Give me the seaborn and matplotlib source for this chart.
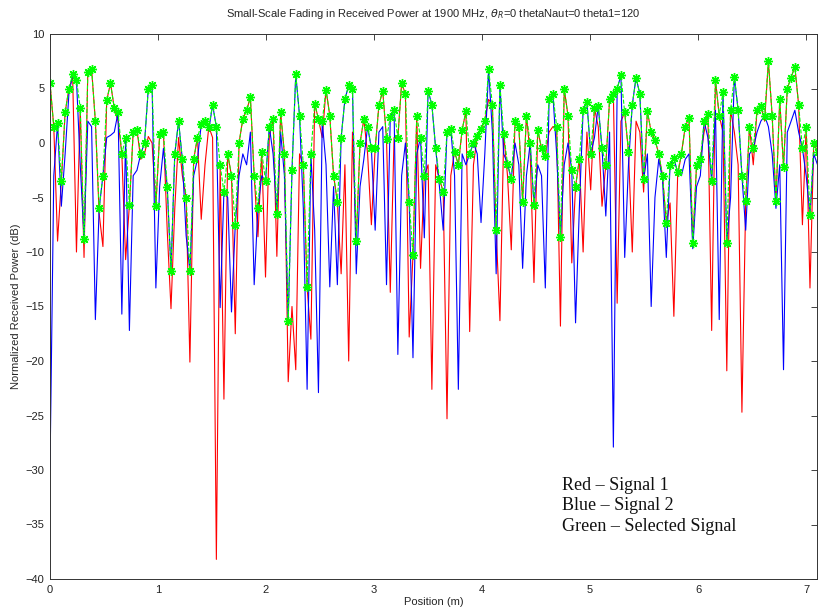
import numpy as np
import pandas as pd
import matplotlib
matplotlib.use("Agg")
import matplotlib.pyplot as plt
import seaborn as sns

step_m = 0.035
signal1_red = [
    5.5, 1.5, -9.0, -3.5, 2.8, 5.0, 6.0, -10.0, 3.2, -10.5,
    6.5, 6.8, 2.0, -6.5, -9.5, 3.9, 5.5, 3.2, 2.0, -1.0,
    -10.7, -5.7, 1.0, 1.2, -1.5, -1.0, 0.6, 0.0, -5.8, 0.8,
    1.0, -8.0, -15.2, -6.0, 0.5, -3.0, -5.0, -20.1, -1.5, 0.5,
    -7.0, -2.0, 1.5, 0.5, -38.2, -2.0, -23.5, -1.0, -3.0, -17.5,
    0.0, 2.2, 3.0, 4.2, -3.0, -8.6, -0.8, -12.3, 0.5, 2.2,
    -10.4, 2.8, -1.0, -21.9, -15.0, -20.8, -1.0, -2.0, -13.2, -18.0,
    3.6, 2.2, 0.5, 4.9, 2.5, -3.0, -5.4, -12.0, -2.0, -20.0,
    1.0, -9.0, 0.0, 2.2, -1.0, -7.5, -0.5, 3.5, 4.8, 0.4,
    -13.7, 0.5, 0.5, 5.5, 4.5, -17.8, -10.3, 2.5, -11.5, -3.0,
    -2.0, -22.6, -2.0, -3.3, -4.5, -25.3, -3.0, -0.8, -2.0, 1.2,
    2.9, -17.3, -2.0, 0.6, 1.3, 2.0, 4.0, 3.5, -8.0, -16.3,
    0.8, -3.0, -9.8, 2.0, 1.5, -5.4, 2.5, -1.0, -12.8, 1.2,
    -0.5, -1.2, 1.0, 1.5, 1.5, -16.8, 5.0, 2.5, -11.0, -4.0,
    -1.5, -10.0, 1.0, -4.3, 3.2, 1.5, -5.8, -2.0, 4.0, 4.5,
    -14.7, 2.0, 2.8, -0.8, -10.0, 2.0, 1.0, -4.5, 2.9, 1.0,
    0.3, -1.0, -3.0, -7.3, -5.5, -15.9, -3.0, -1.0, 1.5, 2.3,
    -9.2, -2.0, -1.5, 1.0, 2.7, -17.2, 5.8, 2.5, 1.0, -20.9,
    3.0, 1.0, -2.0, -24.7, -5.3, 1.5, -2.0, 3.0, 3.4, 2.0,
    7.5, 2.5, -5.3, 4.0, -2.2, 5.0, 6.0, 7.0, 3.5, -7.5,
    1.5, -13.3, 0.0, -0.8,
]
signal2_blue = [
    -30.0, -3.0, 1.8, -5.8, -1.0, 4.5, 6.3, 5.8, -2.0, -8.8,
    2.0, 1.5, -16.2, -6.0, -3.0, 0.5, 0.7, 1.0, 2.8, -15.7,
    0.5, -17.2, -3.0, -2.5, -1.0, 0.0, 5.0, 5.3, -13.3, -4.0,
    -0.5, -4.0, -11.7, -1.0, 2.0, -1.5, -8.5, -11.7, -3.0, -1.5,
    1.7, 2.0, 1.2, 3.5, 1.5, -15.1, -4.5, -5.0, -15.5, -7.5,
    -3.0, -1.0, -2.0, 1.0, -13.0, -6.0, -3.0, -3.5, 1.5, -1.0,
    -6.5, 1.0, -3.0, -16.3, -2.5, 6.3, 2.5, -6.0, -22.6, -1.0,
    -8.0, -22.9, 2.0, -2.0, -13.2, -4.0, -13.0, 0.5, 4.0, 5.3,
    5.0, -12.0, -4.0, -1.5, 1.5, -0.5, -8.0, 1.0, 1.5, -13.0,
    2.4, 3.0, -19.4, -3.0, 0.0, -5.4, -19.7, -1.0, 0.5, -8.7,
    4.8, 3.5, -0.5, -4.0, -8.0, 1.0, 1.3, -3.0, -22.6, -1.0,
    -2.0, -1.0, 0.0, -1.0, -7.3, -1.0, 6.8, 1.0, -12.0, 5.3,
    -1.0, -1.9, -3.3, 0.0, -2.0, -11.5, -3.0, 0.0, -5.7, -2.0,
    -3.0, -13.3, 4.0, 4.5, -1.0, -8.6, -2.0, 0.0, -2.5, -16.5,
    -6.0, 3.0, 3.8, -1.0, 0.5, 3.4, -0.5, -6.7, 1.0, -27.9,
    5.0, 6.2, -10.5, -2.0, 3.5, 6.0, 4.5, -3.3, -1.0, -15.0,
    -5.0, -1.5, -3.3, -10.5, -2.0, -1.4, -2.7, -3.0, -1.5, -1.0,
    -9.7, -4.0, -3.0, 2.0, 0.5, -3.5, 3.0, -16.2, 4.7, -9.2,
    -5.0, 6.1, 3.0, -3.0, -8.0, -1.0, -0.5, 1.0, 2.0, 2.5,
    1.5, -1.0, -6.0, -2.0, -20.8, 1.0, 2.0, 3.0, 1.0, -0.5,
    -3.0, -6.6, -1.0, -2.0,
]
selected_green = [
    5.5, 1.5, 1.8, -3.5, 2.8, 5.0, 6.3, 5.8, 3.2, -8.8,
    6.5, 6.8, 2.0, -6.0, -3.0, 3.9, 5.5, 3.2, 2.8, -1.0,
    0.5, -5.7, 1.0, 1.2, -1.0, 0.0, 5.0, 5.3, -5.8, 0.8,
    1.0, -4.0, -11.7, -1.0, 2.0, -1.5, -5.0, -11.7, -1.5, 0.5,
    1.7, 2.0, 1.5, 3.5, 1.5, -2.0, -4.5, -1.0, -3.0, -7.5,
    0.0, 2.2, 3.0, 4.2, -3.0, -6.0, -0.8, -3.5, 1.5, 2.2,
    -6.5, 2.8, -1.0, -16.3, -2.5, 6.3, 2.5, -2.0, -13.2, -1.0,
    3.6, 2.2, 2.0, 4.9, 2.5, -3.0, -5.4, 0.5, 4.0, 5.3,
    5.0, -9.0, 0.0, 2.2, 1.5, -0.5, -0.5, 3.5, 4.8, 0.4,
    2.4, 3.0, 0.5, 5.5, 4.5, -5.4, -10.3, 2.5, 0.5, -3.0,
    4.8, 3.5, -0.5, -3.3, -4.5, 1.0, 1.3, -0.8, -2.0, 1.2,
    2.9, -1.0, 0.0, 0.6, 1.3, 2.0, 6.8, 3.5, -8.0, 5.3,
    0.8, -1.9, -3.3, 2.0, 1.5, -5.4, 2.5, 0.0, -5.7, 1.2,
    -0.5, -1.2, 4.0, 4.5, 1.5, -8.6, 5.0, 2.5, -2.5, -4.0,
    -1.5, 3.0, 3.8, -1.0, 3.2, 3.4, -0.5, -2.0, 4.0, 4.5,
    5.0, 6.2, 2.8, -0.8, 3.5, 6.0, 4.5, -3.3, 2.9, 1.0,
    0.3, -1.0, -3.0, -7.3, -2.0, -1.4, -2.7, -1.0, 1.5, 2.3,
    -9.2, -2.0, -1.5, 2.0, 2.7, -3.5, 5.8, 2.5, 4.7, -9.2,
    3.0, 6.1, 3.0, -3.0, -5.3, 1.5, -0.5, 3.0, 3.4, 2.5,
    7.5, 2.5, -5.3, 4.0, -2.2, 5.0, 6.0, 7.0, 3.5, -0.5,
    1.5, -6.6, 0.0, -0.8,
]
x_ticks = [0, 1, 2, 3, 4, 5, 6, 7]
y_ticks = [-40, -35, -30, -25, -20, -15, -10, -5, 0, 5, 10]

position = np.arange(len(signal1_red)) * step_m
df = pd.DataFrame({"pos": position, "red": signal1_red,
                   "blue": signal2_blue, "green": selected_green})

sns.set_theme(style="white")
plt.rcParams["font.family"] = ["Liberation Sans", "DejaVu Sans"]

fig = plt.figure(figsize=(8.18, 6.10), dpi=100)
ax = fig.add_axes([50 / 818, 1 - 579 / 610, 767 / 818, 545 / 610])

sns.lineplot(data=df, x="pos", y="red", color="#ff0000", lw=0.8,
             estimator=None, sort=False, ax=ax)
sns.lineplot(data=df, x="pos", y="blue", color="#0000ff", lw=0.8,
             estimator=None, sort=False, ax=ax)
sns.lineplot(data=df, x="pos", y="green", color="#00ff00", lw=0.8,
             linestyle="--", marker=(8, 2, 0), markersize=6.5,
             markeredgewidth=1.0, markeredgecolor="#00ff00",
             estimator=None, sort=False, ax=ax)

ax.set_xlim(0, 7.1)
ax.set_ylim(-40, 10)
ax.set_xticks(x_ticks)
ax.set_yticks(y_ticks)
ax.tick_params(direction="in", top=True, right=True, length=4,
               width=0.6, labelsize=8, colors="#222222", pad=4)
for s in ax.spines.values():
    s.set_color("#333333")
    s.set_linewidth(0.7)

ax.set_xlabel("Position (m)", fontsize=8, labelpad=2)
ax.set_ylabel("Normalized Received Power (dB)", fontsize=8, labelpad=3)
ax.set_title("Small-Scale Fading in Received Power at 1900 MHz, "
             r"$\theta_R$=0 thetaNaut=0 theta1=120", fontsize=8, pad=12)

ax.text(0.667, 0.188, "Red \u2013 Signal 1\nBlue \u2013 Signal 2\nGreen \u2013 Selected Signal",
        transform=ax.transAxes, ha="left", va="top", fontsize=13,
        family=["Liberation Serif", "DejaVu Serif"], linespacing=1.3,
        color="#111111")

fig.savefig("out.png", dpi=100)
